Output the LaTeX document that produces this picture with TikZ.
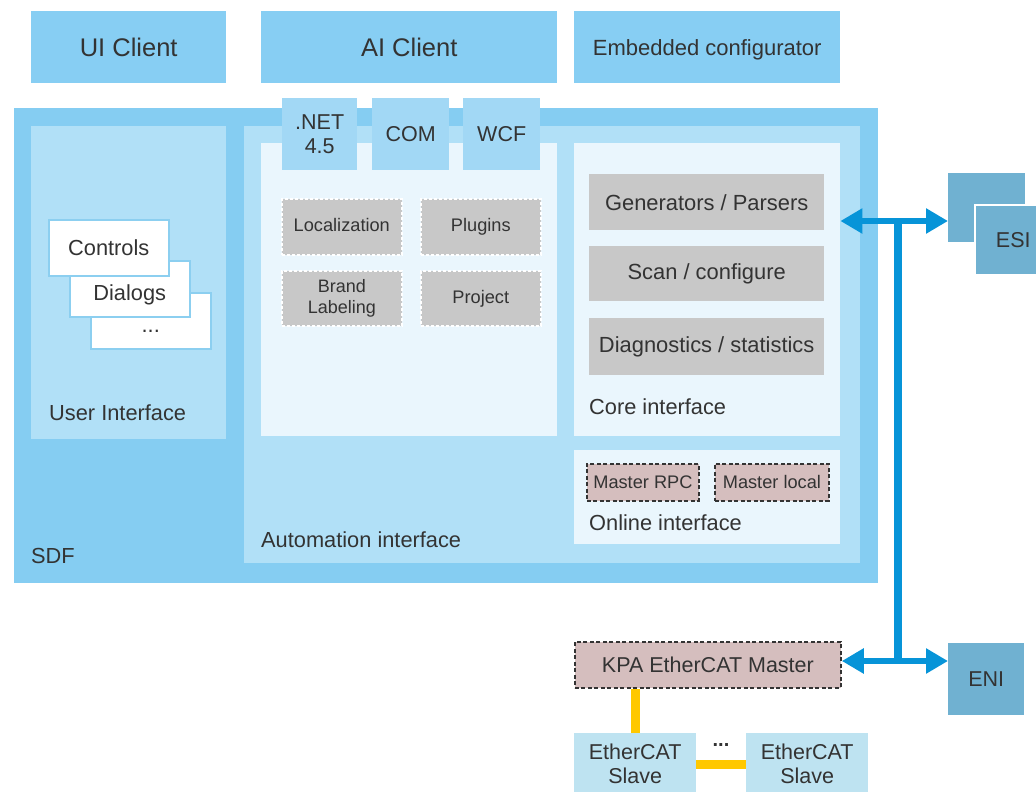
\documentclass[tikz,border=0pt]{standalone}
\usepackage{fontspec}
\setmainfont{Liberation Sans}
\usetikzlibrary{arrows.meta,positioning}
\definecolor{cli}{HTML}{87CEF3}
\definecolor{sdf}{HTML}{85CDF2}
\definecolor{pan}{HTML}{B1E0F7}
\definecolor{inn}{HTML}{EAF6FD}
\definecolor{tech}{HTML}{A2D8F5}
\definecolor{gbox}{HTML}{C8C8C8}
\definecolor{mbox}{HTML}{D5BEBE}
\definecolor{txt}{HTML}{333333}
\definecolor{fil}{HTML}{70B1D1}
\definecolor{arr}{HTML}{0794D8}
\definecolor{yel}{HTML}{FFC800}
\definecolor{slv}{HTML}{BEE3F1}
\definecolor{ctb}{HTML}{8CCFF0}
\tikzset{
  bx/.style={anchor=north west, inner sep=0pt, text=txt, align=center},
  fsz/.style={font=\fontsize{#1}{#1}\selectfont},
  lbl/.style={anchor=west, inner sep=0pt, text=txt, font=\fontsize{21.8}{21.8}\selectfont},
  gray/.style={bx, fill=gbox, draw=white, line width=1.6pt, dash pattern=on 3pt off 2pt, fsz=18.2, text height=13pt, text depth=3pt},
  mst/.style={bx, fill=mbox, draw=txt, line width=1.8pt, dash pattern=on 4pt off 2.5pt},
  stack/.style={bx, fill=white, draw=ctb, line width=1.5pt, fsz=21.8},
  link/.style={draw=arr, line width=6pt, {Triangle[length=22pt,width=24pt]}-{Triangle[length=22pt,width=24pt]}},
  bus/.style={draw=yel, line width=9pt},
}
\begin{document}
\begin{tikzpicture}[x=1pt,y=-1pt]
\clip (0,0) rectangle (1036,792);
\fill[white] (0,0) rectangle (1036,792);
% clients
\node[bx, fill=cli, minimum width=195, minimum height=72, fsz=25.5] (ui) at (31,11) {UI Client};
\node[bx, fill=cli, minimum width=296, minimum height=72, fsz=25.5] (ai) at (261,11) {AI Client};
\node[bx, fill=cli, minimum width=266, minimum height=72, fsz=22] (emb) at (574,11) {\smash{\raisebox{-8pt}{Embedded configurator}}};
% SDF
\node[bx, fill=sdf, minimum width=864, minimum height=475] (sdf) at (14,108) {};
\node[lbl] (sdfl) at (31,556) {SDF};
% user interface
\node[bx, fill=pan, minimum width=195, minimum height=313] (uip) at (31,126) {};
\node[lbl] (uil) at (49,413) {User Interface};
\node[stack, minimum width=120, minimum height=56] (dots) at (90,292) {\smash{\raisebox{-11.5pt}{...}}};
\node[stack, minimum width=120, minimum height=56] (dlg) at (69,260) {\smash{\raisebox{-12pt}{Dialogs}}};
\node[stack, minimum width=120, minimum height=56] (ctl) at (48,219) {Controls};
% automation
\node[bx, fill=pan, minimum width=616, minimum height=437] (aut) at (244,126) {};
\node[lbl] (autl) at (261,540) {Automation interface};
\node[bx, fill=inn, minimum width=296, minimum height=293] (autin) at (261,143) {};
\node[bx, fill=tech, minimum width=75, minimum height=72, font=\fontsize{21.5}{24}\selectfont] (net) at (282,98) {.NET\\4.5};
\node[bx, fill=tech, minimum width=77, minimum height=72, fsz=21.5] (com) at (372,98) {COM};
\node[bx, fill=tech, minimum width=77, minimum height=72, fsz=21.5] (wcf) at (463,98) {WCF};
\node[gray, minimum width=120, minimum height=56] (loc) at (281,198) {Localization};
\node[gray, minimum width=120, minimum height=56] (plg) at (420,198) {Plugins};
\node[gray, minimum width=120, minimum height=55, text height=, text depth=, font=\fontsize{18}{20.5}\selectfont] (brand) at (281,270) {Brand\\Labeling};
\node[gray, minimum width=120, minimum height=55] (prj) at (420,270) {Project};
% core interface
\node[bx, fill=inn, minimum width=266, minimum height=293] (core) at (574,143) {};
\node[lbl] (corel) at (589,407) {Core interface};
\node[bx, fill=gbox, minimum width=235, minimum height=56, fsz=21.9] (gen) at (589,174) {Generators / Parsers};
\node[bx, fill=gbox, minimum width=235, minimum height=55, fsz=21.9] (scan) at (589,246) {Scan / configure};
\node[bx, fill=gbox, minimum width=235, minimum height=57, fsz=21.9] (diag) at (589,318) {Diagnostics / statistics};
% online interface
\node[bx, fill=inn, minimum width=266, minimum height=94] (onl) at (574,450) {};
\node[lbl] (onll) at (589,523) {Online interface};
\node[mst, minimum width=112, minimum height=37, fsz=18.2] (rpc) at (586,463) {Master RPC};
\node[mst, minimum width=114, minimum height=37, fsz=18.2] (loc2) at (714,463) {Master local};
% files
\node[bx, fill=fil, minimum width=77, minimum height=69] (esi1) at (948,173) {};
\node[bx, fill=fil, draw=white, line width=1.5pt, minimum width=77, minimum height=70, fsz=21.5] (esi2) at (974,204) {ESI};
\node[bx, fill=fil, minimum width=76, minimum height=72, fsz=21.5] (eni) at (948,643) {ENI};
% master
\node[mst, minimum width=266, minimum height=46, fsz=21.5] (kpa) at (574,641) {KPA EtherCAT Master};
\node[bx, fill=slv, minimum width=122, minimum height=62, font=\fontsize{21.5}{24}\selectfont] (s1) at (574,733) {EtherCAT\\Slave};
\node[bx, fill=slv, minimum width=122, minimum height=62, font=\fontsize{21.5}{24}\selectfont] (s2) at (746,733) {EtherCAT\\Slave};
% connectors
\coordinate (j1) at (898,221);
\coordinate (j2) at (898,661);
\draw[link] (core.east |- j1) -- (esi1.west |- j1);
\draw[link] (kpa.east |- j2) -- (eni.west |- j2);
\draw[draw=arr, line width=8pt] (j1) -- (j2);
\draw[bus] (s1.north) -- (s1.north |- kpa.south);
\draw[bus] (s1.east) -- (s2.west);
\node[text=txt, inner sep=0pt, font=\bfseries\fontsize{20}{20}\selectfont] (ell) at (721,745) {...};
\end{tikzpicture}
\end{document}
